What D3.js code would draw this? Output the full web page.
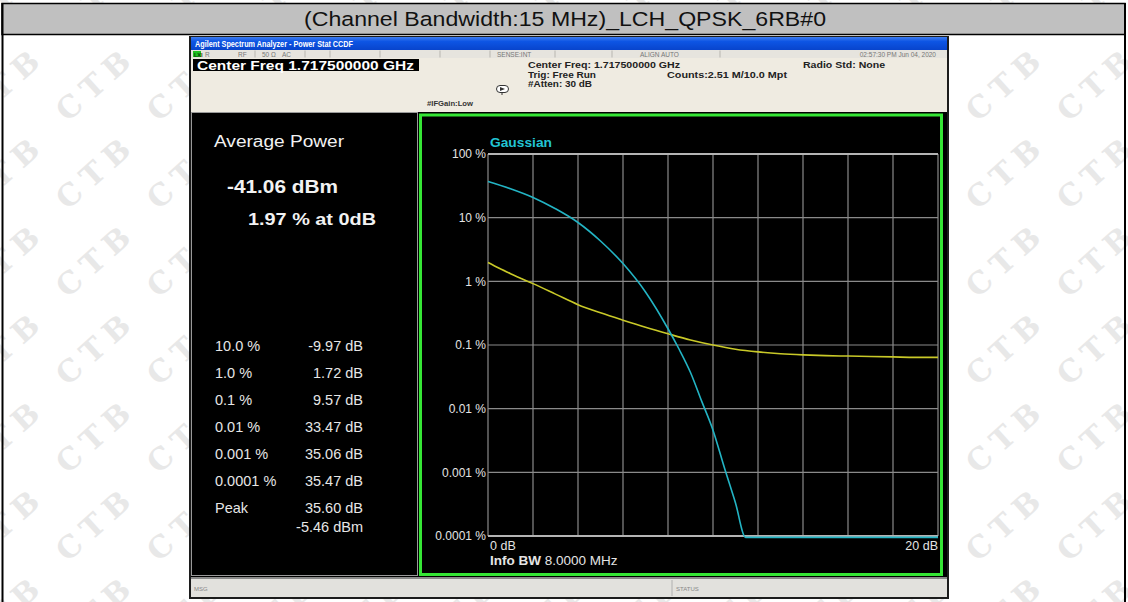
<!DOCTYPE html>
<html><head><meta charset="utf-8">
<script src="https://cdn.jsdelivr.net/npm/d3@7"></script>
<style>html,body{margin:0;padding:0;background:#fff;overflow:hidden}</style>
</head><body><svg id="c" width="1128" height="602"></svg>
<script>
// ---------------- data ----------------
const titleText = "(Channel Bandwidth:15 MHz)_LCH_QPSK_6RB#0";
const yTickValues = [100, 10, 1, 0.1, 0.01, 0.001, 0.0001];
const yTickLabels = ["100 %", "10 %", "1 %", "0.1 %", "0.01 %", "0.001 %", "0.0001 %"];
const xDomain = [0, 20];
const xEndLabels = ["0 dB", "20 dB"];
const gaussianDb  = [0, 1, 2, 3, 4, 5, 6, 7, 8, 8.5, 9, 9.5, 10, 10.5, 11, 11.45, 20];
const gaussianPct = [37, 28.5, 20.8, 13.8, 8.4, 4.3, 1.9, 0.68, 0.18, 0.085, 0.037, 0.013, 0.0046, 0.0012, 0.00033, 0.000095, 0.000095];
const measuredDb  = [0, 0.5, 1, 1.5, 2, 3, 4, 5, 6, 7, 8, 9, 10, 11, 12, 13, 14, 15, 16, 17, 18, 19, 20];
const measuredPct = [1.98, 1.6, 1.32, 1.1, 0.92, 0.63, 0.43, 0.32, 0.245, 0.19, 0.15, 0.12, 0.10, 0.086, 0.078, 0.073, 0.070, 0.068, 0.067, 0.066, 0.065, 0.064, 0.064];
const statLabels = ["10.0 %", "1.0 %", "0.1 %", "0.01 %", "0.001 %", "0.0001 %", "Peak", ""];
const statValues = ["-9.97 dB", "1.72 dB", "9.57 dB", "33.47 dB", "35.06 dB", "35.47 dB", "35.60 dB", "-5.46 dBm"];
const avgPowerTitle = "Average Power";
const avgPowerValue = "-41.06 dBm";
const avgPowerPct = "1.97 % at 0dB";
const traceName = "Gaussian";
const infoBwLabel = "Info BW";
const infoBwValue = " 8.0000 MHz";
const windowTitle = "Agilent Spectrum Analyzer - Power Stat CCDF";
const statusItems = [["R",205],["RF",238],["50 \u03A9",262],["AC",282],["SENSE:INT",497],["ALIGN AUTO",640]];
const statusDate = "02:57:30 PM Jun 04, 2020";
const centerFreqBox = "Center Freq 1.717500000 GHz";
const headerLines = ["Center Freq: 1.717500000 GHz", "Trig: Free Run", "#Atten: 30 dB"];
const countsText = "Counts:2.51 M/10.0 Mpt";
const radioStd = "Radio Std: None";
const ifGain = "#IFGain:Low";
const watermarkText = "CTB";

// ---------------- helpers ----------------
const svg = d3.select("#c");
const F = "'Liberation Sans', Arial, sans-serif";
function T(g, x, y, s, o = {}) {
  const t = g.append("text").attr("x", x).attr("y", y).text(s)
    .attr("font-family", o.ff || F).attr("font-size", o.fs || 12)
    .attr("font-weight", o.fw || "normal").attr("fill", o.fill || "#000")
    .attr("text-anchor", o.anchor || "start");
  if (o.tl) t.attr("textLength", o.tl).attr("lengthAdjust", "spacingAndGlyphs");
  return t;
}
const defs = svg.append("defs");

// ---------------- page background + watermark ----------------
svg.append("rect").attr("width", 1128).attr("height", 602).attr("fill", "#fff");
const wm = svg.append("g");
for (let cx = 5; cx < 1200; cx += 91) {
  for (let cy = -5; cy < 680; cy += 88) {
    wm.append("text").attr("x", cx).attr("y", cy)
      .attr("transform", `rotate(-42 ${cx} ${cy})`)
      .attr("text-anchor", "middle").attr("dominant-baseline", "central")
      .attr("font-family", "'DejaVu Serif', serif").attr("font-weight", "bold")
      .attr("font-size", 30).attr("letter-spacing", 8).attr("fill", "#e8e8e8").text(watermarkText);
  }
}

// ---------------- table frame + title row ----------------
svg.append("rect").attr("x", 2).attr("y", 3.5).attr("width", 1123).attr("height", 31)
  .attr("fill", "#c0c0c0").attr("stroke", "#000").attr("stroke-width", 1.5);
svg.append("line").attr("x1", 2.5).attr("x2", 2.5).attr("y1", 3).attr("y2", 602).attr("stroke", "#000").attr("stroke-width", 2);
svg.append("line").attr("x1", 1125).attr("x2", 1125).attr("y1", 3).attr("y2", 602).attr("stroke", "#000").attr("stroke-width", 2);
T(svg, 565, 26, titleText, { fs: 20.5, anchor: "middle", fill: "#111", tl: 522 });

// ---------------- analyzer screenshot ----------------
const sc = svg.append("g");
sc.append("rect").attr("x", 189).attr("y", 36).attr("width", 760).attr("height", 563).attr("fill", "#1c1c1c");
const grad = defs.append("linearGradient").attr("id", "bluebar").attr("x1", 0).attr("x2", 0).attr("y1", 0).attr("y2", 1);
grad.append("stop").attr("offset", 0).attr("stop-color", "#3d7cf0");
grad.append("stop").attr("offset", 0.35).attr("stop-color", "#0d55e4");
grad.append("stop").attr("offset", 1).attr("stop-color", "#0844cc");
sc.append("rect").attr("x", 191).attr("y", 37).attr("width", 756).attr("height", 13).attr("fill", "url(#bluebar)");
T(sc, 195, 47, windowTitle, { fs: 9, fw: "bold", fill: "#fff", tl: 158 });

// status row
sc.append("rect").attr("x", 191).attr("y", 50).attr("width", 756).attr("height", 8).attr("fill", "#e6e4de");
sc.append("rect").attr("x", 193).attr("y", 51).attr("width", 8).attr("height", 6).attr("fill", "#1fc01f");
T(sc, 194, 56.5, "LXI", { fs: 5.5, fw: "bold", fill: "#0a3a0a" });
statusItems.forEach(([s, px]) => T(sc, px, 56.5, s, { fs: 6.5, fill: "#777" }));
T(sc, 936, 56.5, statusDate, { fs: 6.5, fill: "#777", anchor: "end" });
[255, 305, 330, 380, 440, 490, 555, 612, 720].forEach(px =>
  sc.append("line").attr("x1", px).attr("x2", px).attr("y1", 50.5).attr("y2", 57.5).attr("stroke", "#b8b6b0"));

// beige header
sc.append("rect").attr("x", 191).attr("y", 58).attr("width", 756).attr("height", 54).attr("fill", "#efebe1");
sc.append("rect").attr("x", 193).attr("y", 59).attr("width", 226).attr("height", 12).attr("fill", "#000");
T(sc, 197, 69.5, centerFreqBox, { fs: 12.5, fw: "bold", fill: "#fff", tl: 217 });
headerLines.forEach((s, i) => T(sc, 528, 68 + i * 9.5, s, { fs: 9, fw: "bold", fill: "#222", tl: [152, 68, 64][i] }));
T(sc, 667, 77.5, countsText, { fs: 9, fw: "bold", fill: "#222", tl: 120 });
T(sc, 803, 68, radioStd, { fs: 9, fw: "bold", fill: "#222", tl: 82 });
T(sc, 427, 106, ifGain, { fs: 7.5, fw: "bold", fill: "#333", tl: 46 });
// small icon
sc.append("rect").attr("x", 496.5).attr("y", 85.5).attr("width", 12).attr("height", 7).attr("rx", 3.5)
  .attr("fill", "#fff").attr("stroke", "#333");
sc.append("path").attr("d", "M500,87 L505,89 L500,91 Z").attr("fill", "#333");
sc.append("line").attr("x1", 502).attr("x2", 502).attr("y1", 92).attr("y2", 95).attr("stroke", "#333");

// black display
sc.append("rect").attr("x", 191).attr("y", 112).attr("width", 756).attr("height", 465).attr("fill", "#000");
sc.append("rect").attr("x", 191.5).attr("y", 112.5).attr("width", 226).attr("height", 463)
  .attr("fill", "none").attr("stroke", "#9a9a9a");
sc.append("rect").attr("x", 420.5).attr("y", 115).attr("width", 521).attr("height", 459.5)
  .attr("fill", "none").attr("stroke", "#35e635").attr("stroke-width", 3);

// bottom bar
sc.append("rect").attr("x", 191).attr("y", 577).attr("width", 756).attr("height", 20).attr("fill", "#e2e1dd");
sc.append("line").attr("x1", 191).attr("x2", 947).attr("y1", 578).attr("y2", 578).attr("stroke", "#8a8a8a").attr("stroke-width", 2);
sc.append("line").attr("x1", 672).attr("x2", 672).attr("y1", 580).attr("y2", 596).attr("stroke", "#b0b0b0");
T(sc, 194, 591, "MSG", { fs: 6, fill: "#888" });
T(sc, 676, 591, "STATUS", { fs: 6, fill: "#888" });

// ---------------- left statistics panel ----------------
const lp = svg.append("g");
T(lp, 214, 147, avgPowerTitle, { fs: 16, fill: "#f2f2f2", tl: 130 });
T(lp, 227, 193, avgPowerValue, { fs: 19, fw: "bold", fill: "#f2f2f2", tl: 111 });
T(lp, 248, 225, avgPowerPct, { fs: 17, fw: "bold", fill: "#f2f2f2", tl: 128 });
const rowY = [351, 378, 405, 432, 459, 486, 513, 532];
statLabels.forEach((s, i) => { if (s) T(lp, 215, rowY[i], s, { fs: 14.5, fill: "#e6e6e6" }); });
statValues.forEach((s, i) => T(lp, 363, rowY[i], s, { fs: 14.5, fill: "#e6e6e6", anchor: "end" }));

// ---------------- CCDF plot ----------------
const x = d3.scaleLinear().domain(xDomain).range([488, 938]);
const y = d3.scaleLog().domain([yTickValues[0], yTickValues[yTickValues.length - 1]]).range([154, 536]);
const pg = svg.append("g");
const xt = x.ticks(10);
pg.selectAll("line.vg").data(xt).join("line").attr("class", "vg")
  .attr("x1", d => x(d)).attr("x2", d => x(d)).attr("y1", y(100)).attr("y2", y(0.0001))
  .attr("stroke", "#8a8a8a").attr("stroke-width", 1.2);
pg.selectAll("line.hg").data(yTickValues).join("line").attr("class", "hg")
  .attr("x1", x(0)).attr("x2", x(20)).attr("y1", d => y(d)).attr("y2", d => y(d))
  .attr("stroke", (d, i) => (i === 0 || i === yTickValues.length - 1) ? "#b4b4b4" : "#8a8a8a")
  .attr("stroke-width", (d, i) => (i === 0 || i === yTickValues.length - 1) ? 2 : 1.2);

const yAxis = d3.axisLeft(y).tickValues(yTickValues).tickFormat((d, i) => yTickLabels[i]).tickSize(0).tickPadding(0);
const ya = pg.append("g").attr("transform", `translate(${x(0) - 2},0)`).call(yAxis);
ya.select(".domain").remove();
ya.selectAll("text").attr("font-family", F).attr("font-size", 12).attr("fill", "#e4e4e4");

T(pg, x(0) + 2, 147, traceName, { fs: 13.5, fw: "bold", fill: "#22c4d4", tl: 62 });
T(pg, x(0) + 2, 550, xEndLabels[0], { fs: 12.5, fill: "#e4e4e4" });
T(pg, x(20), 550, xEndLabels[1], { fs: 12.5, fill: "#e4e4e4", anchor: "end" });
const ib = T(pg, x(0) + 2, 565, infoBwLabel, { fs: 13.5, fw: "bold", fill: "#e4e4e4" });
ib.append("tspan").attr("font-weight", "normal").text(infoBwValue);

const line = d3.line().x(d => x(d[0])).y(d => y(d[1])).curve(d3.curveMonotoneX);
pg.append("path").datum(measuredDb.map((d, i) => [d, measuredPct[i]]))
  .attr("d", line).attr("fill", "none").attr("stroke", "#c9c928").attr("stroke-width", 1.6);
pg.append("path").datum(gaussianDb.map((d, i) => [d, gaussianPct[i]]))
  .attr("d", line).attr("fill", "none").attr("stroke", "#23b4c4").attr("stroke-width", 1.6);
</script></body></html>
